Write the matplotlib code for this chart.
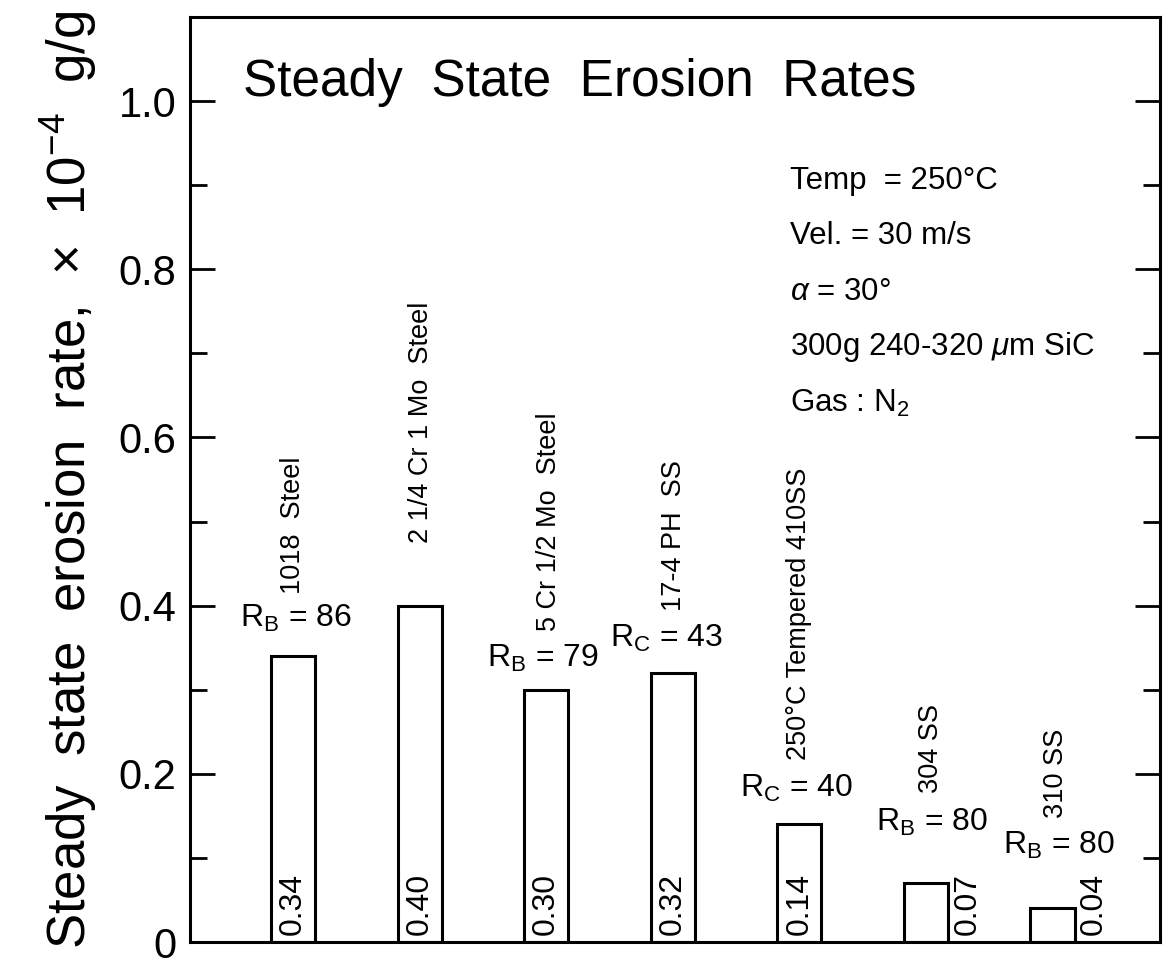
import numpy as np
import matplotlib
matplotlib.use("Agg")
import matplotlib.pyplot as plt

plt.rcParams['font.family'] = ['Liberation Sans', 'DejaVu Sans']
plt.rcParams['mathtext.fontset'] = 'custom'
plt.rcParams['mathtext.rm'] = 'Liberation Sans'
plt.rcParams['mathtext.it'] = 'Liberation Sans:italic'
plt.rcParams['mathtext.sf'] = 'Liberation Sans'

# steady state erosion rates (x 1e-4 g/g)
materials = ['1018  Steel', '2 1/4 Cr 1 Mo  Steel', '5 Cr 1/2 Mo  Steel',
             '17-4 PH  SS', '250°C Tempered 410SS', '304 SS', '310 SS']
rates = [0.34, 0.40, 0.30, 0.32, 0.14, 0.07, 0.04]
hardness = ['R$_\\mathrm{B}$ = 86', '', 'R$_\\mathrm{B}$ = 79', 'R$_\\mathrm{C}$ = 43',
            'R$_\\mathrm{C}$ = 40', 'R$_\\mathrm{B}$ = 80', 'R$_\\mathrm{B}$ = 80']
conditions = ['Temp  = 250°C', 'Vel. = 30 m/s', '$\\alpha$ = 30°',
              '300g 240-320 $\\mu$m SiC', 'Gas : N$_2$']

# label placement (data units)
name_y = [0.414, 0.474, 0.37, 0.394, 0.216, 0.177, 0.148]
hard_y = [0.385, None, 0.337, 0.361, 0.183, 0.142, 0.115]
hard_dx = [0.02, 0, -0.03, -0.05, -0.02, 0.05, 0.05]
name_dx = [0, 0.01, 0.02, 0.01, 0, 0.04, 0.03]

fig = plt.figure(figsize=(11.63, 9.64), dpi=100)
ax = fig.add_axes([0.1634, 0.0228, 0.834, 0.9596])

x = np.arange(len(rates))
ax.bar(x, rates, width=0.35, facecolor='white', edgecolor='black', linewidth=2.2)

for i, r in enumerate(rates):
    if r >= 0.1:
        ax.text(x[i], 0.008, f'{r:.2f}', rotation=90, ha='center', va='bottom', fontsize=23)
    else:
        ax.text(x[i] + 0.33, 0.008, f'{r:.2f}', rotation=90, ha='center', va='bottom', fontsize=23)
    ax.text(x[i] + name_dx[i], name_y[i], materials[i], rotation=90, ha='center',
            va='bottom', fontsize=19.5)
    if hardness[i]:
        ax.text(x[i] + hard_dx[i], hard_y[i], hardness[i], ha='center', va='center', fontsize=23)

ax.text(-0.4, 1.022, 'Steady  State  Erosion  Rates', ha='left', va='center', fontsize=37)
for j, c in enumerate(conditions):
    ax.text(3.93, 0.905 - j * 0.066, c, ha='left', va='center', fontsize=22.5)

ax.set_xlim(-0.815, 6.85)
ax.set_ylim(0, 1.1)
ax.set_xticks([])
ax.set_yticks([0, 0.2, 0.4, 0.6, 0.8, 1.0])
ax.set_yticklabels(['0', '0.2', '0.4', '0.6', '0.8', '1.0'])
ax.set_yticks(np.arange(0.1, 1.0, 0.2), minor=True)
ax.tick_params(axis='y', which='major', direction='in', length=18, width=2, labelsize=30,
               pad=10, right=True)
ax.tick_params(axis='y', which='minor', direction='in', length=12, width=2, right=True)
for s in ax.spines.values():
    s.set_linewidth(2.2)

ax.set_ylabel('Steady  state  erosion  rate,  $\\times$  10$^{-4}$  g/g', fontsize=38, labelpad=14)

fig.savefig('out.png', dpi=100)
